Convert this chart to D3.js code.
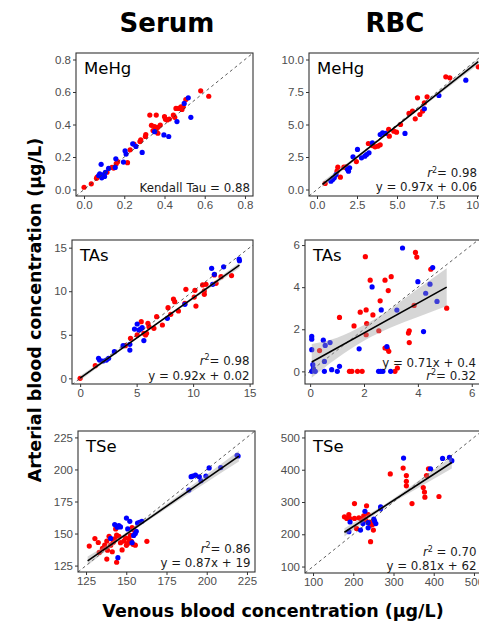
<!DOCTYPE html>
<html><head><meta charset="utf-8">
<script src="https://cdn.jsdelivr.net/npm/d3@7"></script>
<style>body{margin:0;background:#fff}svg{display:block}</style>
</head><body><svg id="c" width="479" height="625"></svg>
<script>
// ---------------- DATA ----------------
const columnTitles = ["Serum", "RBC"];
const panelLabels = ["MeHg", "MeHg", "TAs", "TAs", "TSe", "TSe"];
const xAxisTitle = "Venous blood concentration (µg/L)";
const yAxisTitle = "Arterial blood concentration (µg/L)";

const ticksMeHgSerum = [0, 0.2, 0.4, 0.6, 0.8];
const ticksMeHgRBC = [0, 2.5, 5, 7.5, 10];
const ticksTAsSerum = [0, 5, 10, 15];
const ticksTAsRBC = [0, 2, 4, 6];
const ticksTSeSerum = [125, 150, 175, 200, 225];
const ticksTSeRBC = [100, 200, 300, 400, 500];

// [venous, arterial]
const serumMeHgRed = [[0.000,0.014],[0.036,0.035],[0.062,0.069],[0.065,0.077],[0.090,0.081],[0.114,0.106],[0.139,0.136],[0.147,0.132],[0.160,0.159],[0.167,0.171],[0.216,0.165],[0.229,0.244],[0.248,0.279],[0.278,0.295],[0.282,0.305],[0.305,0.326],[0.307,0.338],[0.327,0.458],[0.359,0.458],[0.335,0.395],[0.351,0.387],[0.359,0.371],[0.367,0.383],[0.379,0.397],[0.343,0.363],[0.367,0.346],[0.400,0.448],[0.405,0.432],[0.413,0.428],[0.424,0.434],[0.444,0.458],[0.451,0.444],[0.457,0.499],[0.470,0.499],[0.482,0.509],[0.487,0.493],[0.493,0.509],[0.506,0.554],[0.580,0.607],[0.620,0.574]];
const serumMeHgBlue = [[0.073,0.086],[0.078,0.096],[0.085,0.155],[0.088,0.072],[0.098,0.092],[0.102,0.080],[0.106,0.106],[0.122,0.130],[0.155,0.136],[0.158,0.189],[0.196,0.169],[0.204,0.238],[0.209,0.218],[0.242,0.281],[0.258,0.265],[0.289,0.228],[0.351,0.356],[0.397,0.336],[0.421,0.326],[0.462,0.418],[0.498,0.530],[0.518,0.564],[0.531,0.444]];

const rbcMeHgRed = [[0.51,0.46],[1.25,1.41],[1.30,1.72],[1.46,0.95],[1.68,1.72],[1.83,1.74],[2.46,2.15],[3.21,3.54],[3.46,3.38],[3.63,3.28],[3.80,3.33],[3.95,3.44],[4.48,4.62],[4.52,4.10],[4.80,4.49],[4.97,4.41],[5.22,5.00],[5.75,5.85],[5.97,6.03],[6.14,5.44],[6.28,7.05],[6.43,5.77],[6.60,6.03],[6.71,6.67],[6.88,7.13],[8.05,8.67],[8.30,8.59],[10.08,9.44]];
const rbcMeHgBlue = [[0.87,0.64],[0.98,0.77],[1.00,0.85],[1.08,0.90],[1.19,1.15],[1.90,1.55],[1.97,1.41],[2.04,1.67],[2.25,2.51],[2.53,3.08],[2.78,2.44],[2.99,2.56],[3.10,2.69],[3.25,2.82],[3.46,3.59],[3.95,4.23],[4.10,4.36],[4.27,4.31],[5.50,4.31],[6.71,6.21],[7.62,7.23],[9.30,8.41]];

const serumTAsRed = [[0,0],[1.34,1.45],[4.0,3.75],[4.46,4.59],[5.05,4.98],[5.41,6.51],[5.64,5.17],[5.79,4.98],[5.88,5.17],[6.0,6.32],[6.09,5.93],[6.53,5.74],[6.77,7.08],[7.28,6.12],[7.78,8.11],[8.02,7.35],[8.26,9.11],[8.37,8.80],[8.70,7.73],[9.27,8.60],[9.36,10.22],[10.25,8.30],[10.1,9.33],[10.16,10.1],[10.84,10.72],[10.99,10.03],[10.99,9.64],[11.14,10.79],[12.03,10.91],[11.88,11.86],[12.47,11.67],[13.4,11.8]];
const serumTAsBlue = [[1.63,2.30],[1.72,2.10],[2.02,1.99],[2.32,2.10],[2.52,2.30],[3.03,3.06],[3.80,3.75],[4.40,3.90],[4.40,3.25],[4.81,5.66],[5.05,6.24],[5.20,5.55],[5.35,5.66],[5.49,5.82],[5.64,4.33],[7.72,6.89],[9.27,8.50],[11.64,12.63],[11.88,11.94],[11.73,10.79],[12.7,12.8],[14.07,13.70],[14.1,13.5]];

const rbcTAsRed = [[0.35,0.99],[1.09,2.56],[1.63,2.16],[1.86,2.81],[2.05,5.45],[2.08,2.92],[2.10,2.27],[2.08,1.74],[2.23,4.33],[2.33,2.68],[2.55,1.93],[2.60,3.35],[2.78,4.33],[2.90,3.84],[2.78,1.11],[2.87,1.07],[2.92,0.95],[3.01,4.50],[3.15,0],[3.24,0.16],[3.86,3.13],[3.91,5.65],[3.96,5.43],[3.65,1.82],[3.68,1.93],[3.68,1.37],[4.48,4.85],[5.07,3.00],[1.46,0],[1.55,0],[1.76,0],[1.93,0]];
const rbcTAsBlue = [[0.06,1.66],[0.06,1.53],[0.06,1.03],[0.10,0.32],[0.12,0.13],[0.06,0],[0.19,0],[0.49,1.48],[0.56,1.23],[0.74,1.37],[0.53,0.47],[0.53,0],[0.80,0.08],[1.01,0],[1.09,0.24],[1.82,1.07],[2.30,4.01],[2.64,2.92],[2.85,1.18],[2.54,0],[2.62,0],[2.70,0],[2.99,0],[3.22,2.91],[3.43,5.86],[4.0,4.26],[4.21,1.89],[4.29,3.71],[4.45,4.14],[4.55,4.93],[4.71,3.32]];

const serumTSeRed = [[127.0,140.2],[130.5,146.1],[132.6,143.0],[133.2,135.3],[135.2,138.4],[136.6,140.9],[137.9,130.1],[138.3,137.0],[137.9,144.1],[139.3,147.9],[140.3,140.9],[141.3,135.8],[141.9,143.3],[142.8,145.9],[143.4,153.6],[144.0,127.6],[144.0,148.8],[145.4,147.9],[146.4,142.9],[147.4,137.2],[148.5,144.1],[149.5,146.7],[150.1,140.8],[150.9,142.3],[151.5,146.0],[152.6,148.6],[153.2,143.9],[153.6,154.6],[154.2,141.6],[154.6,152.8],[155.6,140.9],[162.8,143.9]];
const serumTSeBlue = [[140.3,146.2],[142.8,157.0],[144.4,154.9],[145.4,156.2],[146.4,155.2],[144.8,131.2],[150.1,162.1],[150.9,153.6],[152.2,159.5],[153.6,142.9],[154.6,148.5],[155.6,150.0],[156.2,151.8],[157.0,158.2],[158.3,158.8],[159.7,159.6],[188.9,183.9],[190.3,194.4],[191.3,194.8],[193.0,195.6],[195.4,194.3],[196.4,191.2],[199.5,194.8],[201.5,201.2],[208.7,201.5],[218.9,211.0],[219.5,210.5]];

const rbcTSeRed = [[178,254],[189,261],[191,249],[184,249],[203,295],[203,249],[208,218],[214,251],[220,247],[226,257],[231,244],[233,288],[237,261],[241,238],[243,228],[248,230],[250,213],[243,177],[292,387],[324,405],[332,382],[332,364],[332,350],[346,295],[374,345],[377,331],[378,315],[387,403],[413,317],[382,382]];
const rbcTSeBlue = [[189,208],[192,238],[218,213],[229,271],[224,233],[237,236],[237,220],[251,247],[253,241],[256,233],[268,285],[268,279],[325,436],[392,403],[422,435],[439,438],[445,428]];

// fits: [slope, intercept], fitted x-range, confidence band [x, lower, upper]
const fitRbcMeHg = [0.97, 0.06], rangeRbcMeHg = [0.34, 10.08];
const bandRbcMeHg = [[0.34,0.19,0.61],[2.5,2.37,2.60],[5,4.83,4.99],[7.5,7.20,7.47],[10.08,9.62,10.06]];
const fitSerumTAs = [0.92, 0.02], rangeSerumTAs = [0, 14.1];
const bandSerumTAs = [[0,-0.25,0.29],[3.5,3.10,3.38],[7,6.34,6.58],[10.5,9.51,9.85],[14.1,12.67,13.29]];
const fitRbcTAs = [0.71, 0.4], rangeRbcTAs = [0.06, 5.07];
const bandRbcTAs = [[0.06,-0.30,1.30],[1,0.62,1.60],[2,1.45,2.20],[3,2.08,2.98],[4,2.58,3.92],[5.07,3.10,4.90]];
const fitSerumTSe = [0.87, 19], rangeSerumTSe = [126, 220];
const bandSerumTSe = [[126,125.2,132.0],[150,148.2,150.8],[175,169.5,173.1],[200,190.0,196.0],[220,206.2,214.6]];
const fitRbcTSe = [0.81, 62], rangeRbcTSe = [178, 445];
const bandRbcTSe = [[178,193,219],[250,258,271],[300,299,311],[350,336,355],[445,404,440]];

// ---------------- LAYOUT ----------------
const panels = [
  {label:panelLabels[0], red:serumMeHgRed, blue:serumMeHgBlue, box:[76,53,177,143], xd:[-0.04,0.84], yd:[-0.04,0.84], ticks:ticksMeHgSerum, fmt:d3.format(".1f"),
   notes:[{t:"Kendall Tau = 0.88", y:192}], right:250},
  {label:panelLabels[1], red:rbcMeHgRed, blue:rbcMeHgBlue, box:[309,53,176,143], xd:[-0.5,10.5], yd:[-0.5,10.5], ticks:ticksMeHgRBC, fmt:d3.format(".1f"),
   fit:fitRbcMeHg, range:rangeRbcMeHg, band:bandRbcMeHg, notes:[{r2:"= 0.98", y:177},{t:"y = 0.97x + 0.06", y:190.5}], right:477},
  {label:panelLabels[2], red:serumTAsRed, blue:serumTAsBlue, box:[72,240,181,144], xd:[-0.72,15.3], yd:[-0.65,15.88], ticks:ticksTAsSerum, fmt:d3.format("d"),
   fit:fitSerumTAs, range:rangeSerumTAs, band:bandSerumTAs, notes:[{r2:"= 0.98", y:364.5},{t:"y = 0.92x + 0.02", y:379.5}], right:249.5},
  {label:panelLabels[3], red:rbcTAsRed, blue:rbcTAsBlue, box:[305,240,177,144], xd:[-0.19,6.38], yd:[-0.6,6.24], ticks:ticksTAsRBC, fmt:d3.format("d"),
   fit:fitRbcTAs, range:rangeRbcTAs, band:bandRbcTAs, notes:[{t:"y = 0.71x + 0.4", y:366.5},{r2:"= 0.32", y:379.5}], right:476},
  {label:panelLabels[4], red:serumTSeRed, blue:serumTSeBlue, box:[78,431,177,141], xd:[120,230], yd:[120,230], ticks:ticksTSeSerum, fmt:d3.format("d"),
   fit:fitSerumTSe, range:rangeSerumTSe, band:bandSerumTSe, notes:[{r2:"= 0.86", y:552.5},{t:"y = 0.87x + 19", y:566.5}], right:250.5},
  {label:panelLabels[5], red:rbcTSeRed, blue:rbcTSeBlue, box:[305,431,177,142], xd:[80,520], yd:[80,520], ticks:ticksTSeRBC, fmt:d3.format("d"),
   fit:fitRbcTSe, range:rangeRbcTSe, band:bandRbcTSe, notes:[{r2:" = 0.70", y:556},{t:"y = 0.81x + 62", y:569.5}], right:476.5}
];

const svg = d3.select("#c");
const FONT = "'DejaVu Sans', Verdana, sans-serif";
const TICKFONT = "'Liberation Sans', Arial, sans-serif";

// column titles
svg.append("text").attr("x",167).attr("y",32).attr("text-anchor","middle")
  .attr("font-family",FONT).attr("font-weight","bold").attr("font-size",26).text(columnTitles[0]);
svg.append("text").attr("x",395).attr("y",32).attr("text-anchor","middle")
  .attr("font-family",FONT).attr("font-weight","bold").attr("font-size",26).text(columnTitles[1]);
// axis titles
svg.append("text").attr("x",273).attr("y",617).attr("text-anchor","middle")
  .attr("font-family",FONT).attr("font-weight","bold").attr("font-size",17.5).text(xAxisTitle);
svg.append("text").attr("transform","translate(41,310) rotate(-90)").attr("text-anchor","middle")
  .attr("font-family",FONT).attr("font-weight","bold").attr("font-size",17.5).text(yAxisTitle);

panels.forEach((p,i) => {
  const [L,T,W,H] = p.box;
  const x = d3.scaleLinear().domain(p.xd).range([L, L+W]);
  const y = d3.scaleLinear().domain(p.yd).range([T+H, T]);
  const g = svg.append("g");
  const cid = "clip"+i;
  g.append("clipPath").attr("id",cid).append("rect").attr("x",L).attr("y",T).attr("width",W).attr("height",H);
  g.append("rect").attr("x",L).attr("y",T).attr("width",W).attr("height",H).attr("fill","#fff");
  const inner = g.append("g").attr("clip-path",`url(#${cid})`);

  // points
  inner.selectAll(".r").data(p.red).join("circle").attr("cx",d=>x(d[0])).attr("cy",d=>y(d[1])).attr("r",2.6).attr("fill","#ff0000");
  inner.selectAll(".b").data(p.blue).join("circle").attr("cx",d=>x(d[0])).attr("cy",d=>y(d[1])).attr("r",2.6).attr("fill","#0000ff");

  // identity line
  const lo = Math.min(p.xd[0],p.yd[0]), hi = Math.max(p.xd[1],p.yd[1]);
  inner.append("line").attr("x1",x(lo)).attr("y1",y(lo)).attr("x2",x(hi)).attr("y2",y(hi))
    .attr("stroke","#333").attr("stroke-width",0.8).attr("stroke-dasharray","3,3");

  // band + fit
  if (p.fit) {
    inner.append("path").datum(p.band)
      .attr("d", d3.area().x(d=>x(d[0])).y0(d=>y(d[1])).y1(d=>y(d[2])).curve(d3.curveMonotoneX))
      .attr("fill","#999").attr("fill-opacity",0.4);
    const [m,b] = p.fit;
    inner.append("line").attr("x1",x(p.range[0])).attr("y1",y(m*p.range[0]+b))
      .attr("x2",x(p.range[1])).attr("y2",y(m*p.range[1]+b))
      .attr("stroke","#000").attr("stroke-width",1.6);
  }

  // border
  g.append("rect").attr("x",L).attr("y",T).attr("width",W).attr("height",H)
    .attr("fill","none").attr("stroke","#333").attr("stroke-width",1.1);

  // axes
  const xa = g.append("g").attr("transform",`translate(0,${T+H})`)
    .call(d3.axisBottom(x).tickValues(p.ticks).tickFormat(p.fmt).tickSize(3).tickPadding(2));
  const ya = g.append("g").attr("transform",`translate(${L},0)`)
    .call(d3.axisLeft(y).tickValues(p.ticks).tickFormat(p.fmt).tickSize(3).tickPadding(2));
  [xa,ya].forEach(a => {
    a.select(".domain").remove();
    a.selectAll("line").attr("stroke","#333");
    a.selectAll("text").attr("fill","#4d4d4d").attr("font-family",TICKFONT).attr("font-size",11.5);
  });

  // panel label
  g.append("text").attr("x",L+8).attr("y",T+21).attr("font-family",FONT).attr("font-size",16.5)
    .attr("fill","#000").text(p.label);

  // notes
  p.notes.forEach(n => {
    const t = g.append("text").attr("x",p.right).attr("y",n.y).attr("text-anchor","end")
      .attr("font-family",FONT).attr("font-size",11.8).attr("fill","#1a1a1a");
    if (n.r2) {
      t.append("tspan").attr("font-style","italic").text("r");
      t.append("tspan").attr("dy",-4.5).attr("font-size",8).text("2");
      t.append("tspan").attr("dy",4.5).text(n.r2);
    } else t.text(n.t);
  });
});
</script></body></html>
